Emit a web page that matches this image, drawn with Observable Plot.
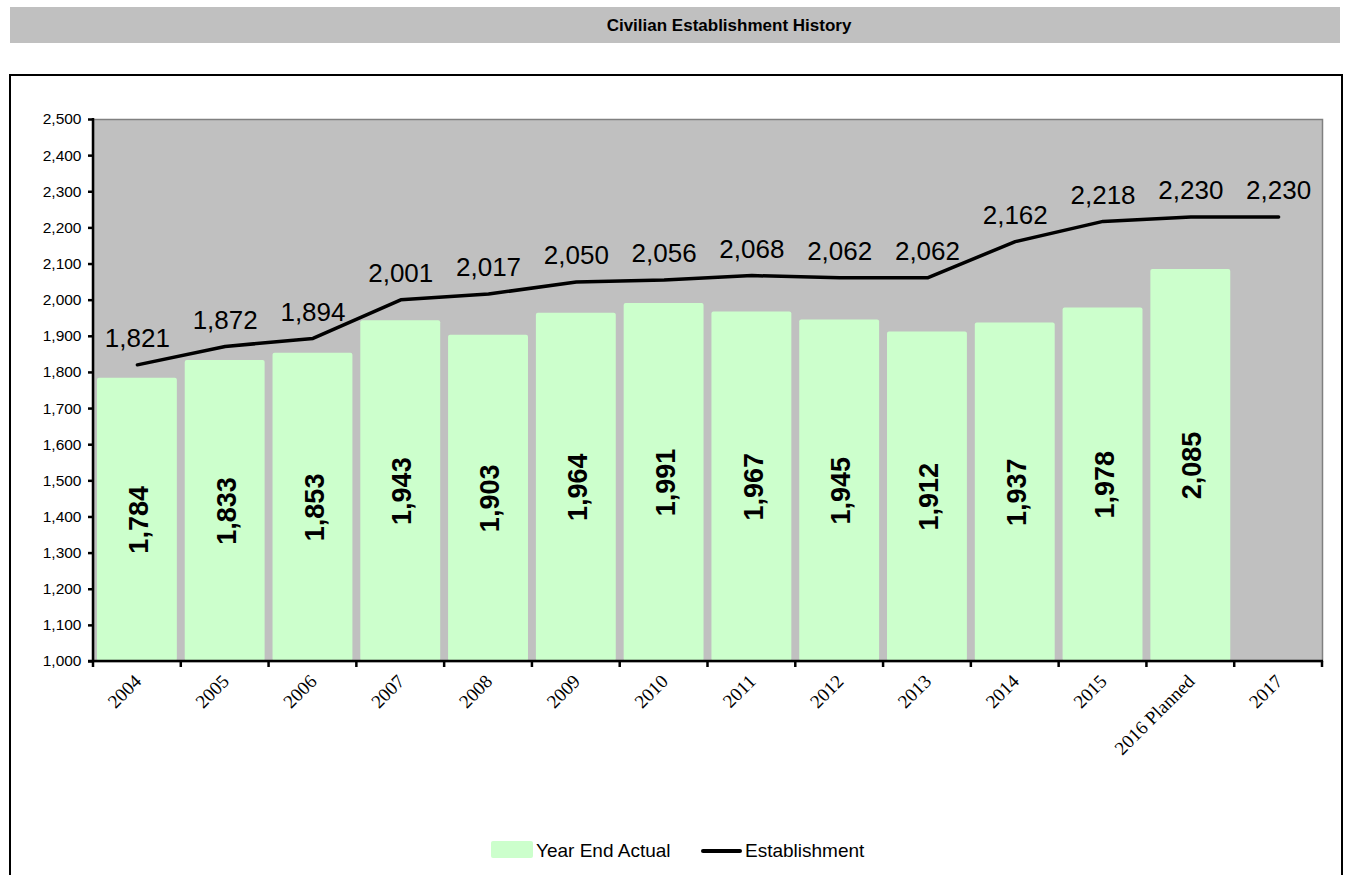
<!DOCTYPE html>
<html><head><meta charset="utf-8">
<script src="https://cdn.jsdelivr.net/npm/d3@7"></script>
<script src="https://cdn.jsdelivr.net/npm/@observablehq/plot@0.6"></script>
<style>
body{margin:0;background:#fff;overflow:hidden;width:1348px;height:875px;position:relative;font-family:"Liberation Sans",Arial,sans-serif;}
#titlebar{position:absolute;left:10px;top:7px;width:1330px;height:36px;background:#C0C0C0;}
#titlebar span{position:absolute;left:719px;top:50%;transform:translate(-50%,-50%);font-weight:bold;font-size:17px;white-space:nowrap;color:#000;line-height:1;}
#box{position:absolute;left:9px;top:74px;width:1330px;height:900px;border:2px solid #000;}
#chart{position:absolute;left:0;top:75px;}
.sw{position:absolute;}
.lt{position:absolute;font-size:19px;color:#000;line-height:1;white-space:nowrap;}
</style></head>
<body>
<div id="titlebar"><span>Civilian Establishment History</span></div>
<div id="box"></div>
<div id="chart"></div>
<div class="sw" style="left:491px;top:841px;width:42px;height:17px;background:#CCFFCC;border-radius:2px;"></div>
<div class="lt" style="left:536px;top:841px;">Year End Actual</div>
<div class="sw" style="left:701px;top:849px;width:41px;height:4px;background:#000;border-radius:2px;"></div>
<div class="lt" style="left:745px;top:841px;">Establishment</div>
<script>
const categories = ["2004","2005","2006","2007","2008","2009","2010","2011","2012","2013","2014","2015","2016 Planned","2017"];
const yearEndActual = [1784,1833,1853,1943,1903,1964,1991,1967,1945,1912,1937,1978,2085];
const establishment = [1821,1872,1894,2001,2017,2050,2056,2068,2062,2062,2162,2218,2230,2230];
const yTicks = [1000,1100,1200,1300,1400,1500,1600,1700,1800,1900,2000,2100,2200,2300,2400,2500];

const yMin = yTicks[0], yMax = yTicks[yTicks.length-1];
const barData = yearEndActual.map((v,i)=>({cat: categories[i], v}));
const lineData = establishment.map((v,i)=>({cat: categories[i], v}));
const fmt = d3.format(",");

function axesAndTicks(index, scales, values, dimensions) {
  const x = scales.x, y = scales.y;
  const g = d3.create("svg:g");
  const bw = x.bandwidth();
  const step = x(categories[1]) - x(categories[0]);
  const gap = step - bw;
  const bounds = categories.map(c => x(c) - gap/2);
  bounds.push(x(categories[categories.length-1]) + bw + gap/2);
  const y0 = y(yMin), yT = y(yMax);
  const left = dimensions.marginLeft;
  g.append("line").attr("x1", left).attr("x2", left).attr("y1", yT - 1).attr("y2", y0 + 1)
    .attr("stroke", "#000").attr("stroke-width", 2.5);
  g.append("line").attr("x1", left - 5).attr("x2", bounds[bounds.length-1] + 1).attr("y1", y0).attr("y2", y0)
    .attr("stroke", "#000").attr("stroke-width", 2.5);
  for (const b of bounds) {
    g.append("line").attr("x1", b).attr("x2", b).attr("y1", y0).attr("y2", y0 + 6)
      .attr("stroke", "#000").attr("stroke-width", 2.5);
  }
  return g.node();
}

const chart = Plot.plot({
  width: 1348,
  height: 700,
  marginLeft: 93,
  marginRight: 26,
  marginTop: 44,
  marginBottom: 114,
  style: {fontFamily: "'Liberation Sans', Arial, sans-serif", fontSize: "15.5px", background: "transparent", color: "#000"},
  x: {type: "band", domain: categories, paddingInner: 0.09, paddingOuter: 0.045, axis: null, round: false},
  y: {domain: [yMin, yMax], label: null},
  marks: [
    Plot.frame({fill: "#C0C0C0", stroke: "#808080", strokeWidth: 1.5}),
    Plot.barY(barData, {x: "cat", y1: yMin, y2: "v", fill: "#CCFFCC", rx: 2}),
    Plot.text(barData, {x: "cat", y: d => (yMin + d.v) / 2, text: d => fmt(d.v), rotate: -90,
      fontSize: 27, fontWeight: "bold", fill: "#000", dx: 2}),
    Plot.line(lineData, {x: "cat", y: "v", stroke: "#000", strokeWidth: 3.5, strokeLinejoin: "round"}),
    Plot.text(lineData, {x: "cat", y: "v", text: d => fmt(d.v), dy: -26, fontSize: 26, fill: "#000"}),
    Plot.axisY({ticks: yTicks, tickFormat: fmt, tickSize: 5, tickPadding: 7, strokeWidth: 2.5, label: null, fontSize: 15.5}),
    Plot.text(categories, {x: d => d, frameAnchor: "bottom", text: d => d, rotate: -45, textAnchor: "end",
      dx: 5, dy: 21, fontSize: 19, fontFamily: "'Liberation Serif', 'Times New Roman', serif", fill: "#000"}),
    axesAndTicks
  ]
});
document.getElementById("chart").appendChild(chart);
</script>
</body></html>
